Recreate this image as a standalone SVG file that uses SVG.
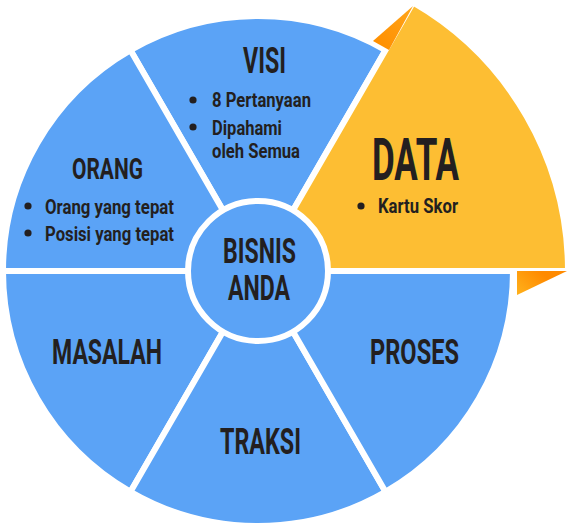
<svg xmlns="http://www.w3.org/2000/svg" width="568" height="524" viewBox="0 0 568 524">
<defs>
<linearGradient id="gTop" x1="373" y1="41" x2="413" y2="6" gradientUnits="userSpaceOnUse">
<stop offset="0" stop-color="#FF8F00"/><stop offset="1" stop-color="#FFA51A"/>
</linearGradient>
<linearGradient id="gBot" x1="540" y1="271" x2="517" y2="295" gradientUnits="userSpaceOnUse">
<stop offset="0" stop-color="#FF8A00"/><stop offset="1" stop-color="#FFB21C"/>
</linearGradient>
</defs>
<style>
.blue{fill:#5BA3F6;stroke:#fff;stroke-width:6;stroke-linejoin:round}
.gold{fill:#FDBE33;stroke:#fff;stroke-width:6;stroke-linejoin:round}
text{font-family:Roboto,"Liberation Sans",sans-serif;font-weight:700;fill:#231F20}
.dot{fill:#231F20}
</style>
<rect width="568" height="524" fill="#fff"/>
<g id="visi">
<path class="blue" d="M258,271 L385.5,50.2 A255,255 0 0,0 130.5,50.2 Z"/>
<text x="243" y="73" font-size="36" textLength="43" lengthAdjust="spacingAndGlyphs">VISI</text>
<circle class="dot" cx="193" cy="100" r="3.6"/>
<text x="212" y="107" font-size="21" textLength="99" lengthAdjust="spacingAndGlyphs">8 Pertanyaan</text>
<circle class="dot" cx="193" cy="127" r="3.6"/>
<text x="212" y="135" font-size="21" textLength="70" lengthAdjust="spacingAndGlyphs">Dipahami</text>
<text x="212" y="158" font-size="21" textLength="88" lengthAdjust="spacingAndGlyphs">oleh Semua</text>
</g>
<g id="orang">
<path class="blue" d="M258,271 L130.5,50.2 A255,255 0 0,0 3,271 Z"/>
<text x="72" y="179" font-size="30" textLength="71" lengthAdjust="spacingAndGlyphs">ORANG</text>
<circle class="dot" cx="28" cy="206" r="3.6"/>
<text x="45" y="214" font-size="21" textLength="129" lengthAdjust="spacingAndGlyphs">Orang yang tepat</text>
<circle class="dot" cx="28" cy="233" r="3.6"/>
<text x="45" y="241" font-size="21" textLength="129" lengthAdjust="spacingAndGlyphs">Posisi yang tepat</text>
</g>
<g id="masalah">
<path class="blue" d="M258,271 L3,271 A255,255 0 0,0 130.5,491.8 Z"/>
<text x="52" y="364" font-size="35" textLength="110" lengthAdjust="spacingAndGlyphs">MASALAH</text>
</g>
<g id="traksi">
<path class="blue" d="M258,271 L130.5,491.8 A255,255 0 0,0 385.5,491.8 Z"/>
<text x="220" y="454" font-size="36" textLength="81" lengthAdjust="spacingAndGlyphs">TRAKSI</text>
</g>
<g id="proses">
<path class="blue" d="M258,271 L385.5,491.8 A255,255 0 0,0 513,271 Z"/>
<text x="370" y="364" font-size="35" textLength="89" lengthAdjust="spacingAndGlyphs">PROSES</text>
</g>
<g id="data">
<path class="gold" d="M258,271 L568,271 A310,310 0 0,0 413,2.5 Z"/>
<polygon points="373,41 413,6 389,50" fill="url(#gTop)"/>
<polygon points="517,271 567,271 517,295" fill="url(#gBot)"/>
<text x="372" y="180" font-size="60" textLength="87" lengthAdjust="spacingAndGlyphs">DATA</text>
<circle class="dot" cx="361" cy="206" r="3.6"/>
<text x="378" y="213" font-size="20" textLength="80" lengthAdjust="spacingAndGlyphs">Kartu Skor</text>
</g>
<g id="bisnis-anda">
<circle class="blue" cx="258" cy="271" r="70"/>
<text x="223" y="263" font-size="35" textLength="73" lengthAdjust="spacingAndGlyphs">BISNIS</text>
<text x="228" y="300" font-size="35" textLength="62" lengthAdjust="spacingAndGlyphs">ANDA</text>
</g>
</svg>
